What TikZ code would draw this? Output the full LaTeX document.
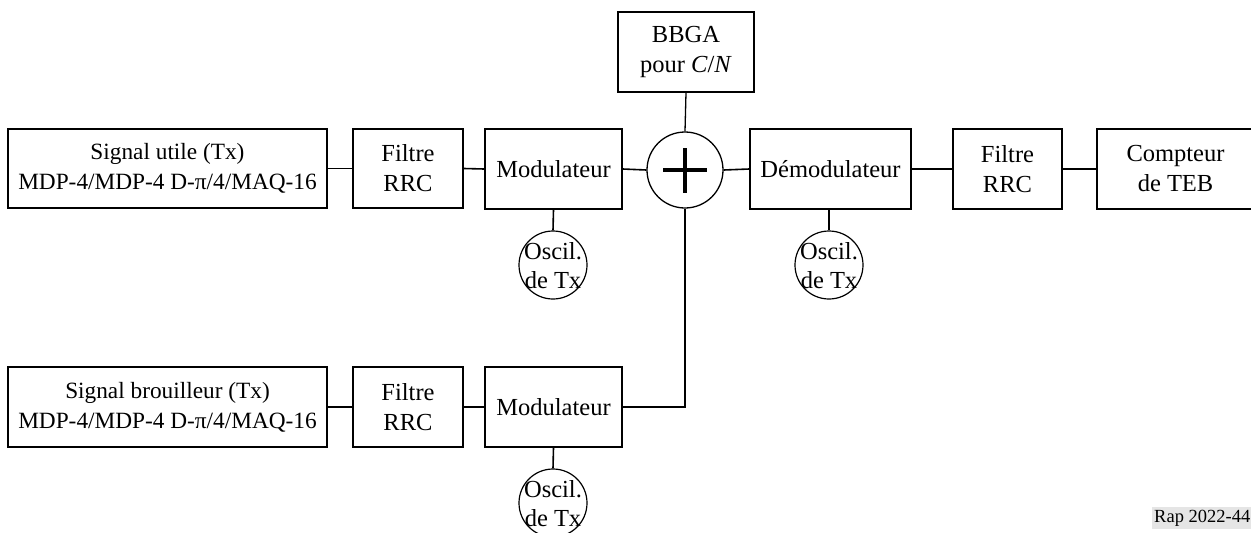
\documentclass[tikz,border=0pt]{standalone}
\usepackage{fontspec}
\setmainfont{Liberation Serif}
\begin{document}
\begin{tikzpicture}[x=1pt,y=-1pt,
  blk/.style={draw,line width=1.3pt,inner sep=0pt,align=center,font=\fontsize{24.5}{30}\selectfont},
  sig/.style={blk,font=\fontsize{23.3}{30}\selectfont},
  osc/.style={draw,circle,line width=1.2pt,minimum size=68pt,inner sep=0pt},
  oscl/.style={align=center,font=\fontsize{24.5}{29}\selectfont,inner sep=0pt},
  wire/.style={line width=1.6pt},
  thin/.style={line width=1.3pt}]
\useasboundingbox (0,0) rectangle (1251,533);
\clip (0,0) rectangle (1251,533);
% top row
\node[sig,minimum width=319pt,minimum height=79pt] (su) at (167.5,168.5) {Signal utile (Tx)\\MDP-4/MDP-4 D-π/4/MAQ-16};
\node[blk,minimum width=110pt,minimum height=79pt] (f1) at (408,168.5) {Filtre\\RRC};
\node[blk,minimum width=137pt,minimum height=80pt] (m1) at (553.5,169) {Modulateur};
\node[draw,circle,line width=1.3pt,minimum size=76pt,inner sep=0pt] (sum) at (685,170) {};
\draw[line width=4pt] (663,170) -- (707,170) (685,148) -- (685,193);
\node[blk,minimum width=136pt,minimum height=80pt] (bb) at (686,52) {BBGA\\pour \textit{C}/\textit{N}};
\node[blk,minimum width=161pt,minimum height=80pt] (dm) at (830.5,169) {Démodulateur};
\node[blk,minimum width=109pt,minimum height=80pt] (f2) at (1007.5,169) {Filtre\\RRC};
\node[blk,minimum width=157pt,minimum height=80pt] (ct) at (1175.5,169) {Compteur\\de TEB};
\node[osc] (o1) at (553,265) {};
\node[oscl] at (553,266) {Oscil.\\de Tx};
\node[osc] (o2) at (829,265) {};
\node[oscl] at (829,266) {Oscil.\\de Tx};
% bottom row
\node[sig,minimum width=319pt,minimum height=80pt] (sb) at (167.5,407) {Signal brouilleur (Tx)\\MDP-4/MDP-4 D-π/4/MAQ-16};
\node[blk,minimum width=110pt,minimum height=80pt] (f3) at (408,407) {Filtre\\RRC};
\node[blk,minimum width=137pt,minimum height=80pt] (m2) at (553.5,407) {Modulateur};
\node[osc] (o3) at (553,503) {};
\node[oscl] at (553,504) {Oscil.\\de Tx};
% connectors
\draw[wire] (su.east) -- (f1.west);
\draw[wire] (f1.east) -- (m1.west);
\draw[wire] (m1.east) -- (sum.west);
\draw[wire] (sum.east) -- (dm.west);
\draw[wire] (dm.east) -- (f2.west);
\draw[wire] (f2.east) -- (ct.west);
\draw[thin] (bb.south) -- (sum.north);
\draw[wire] (m1.south) -- (o1.north);
\draw[wire] (dm.south -| o2.north) -- (o2.north);
\draw[thin] (sb.east) -- (f3.west);
\draw[thin] (f3.east) -- (m2.west);
\draw[thin] (sum.south) |- (m2.east);
\draw[wire] (m2.south) -- (o3.north);
% label
\node[fill=black!10,inner sep=2.5pt,font=\fontsize{18.5}{21}\selectfont,anchor=east] (rap) at (1253,518) {Rap 2022-44};
\end{tikzpicture}
\end{document}
